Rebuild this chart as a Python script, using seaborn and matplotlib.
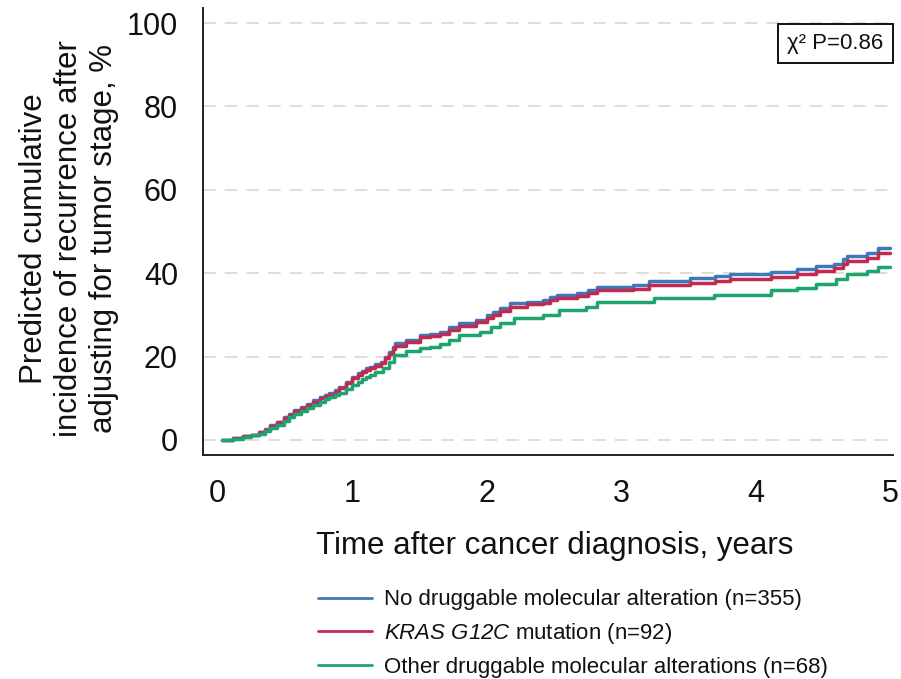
import numpy as np
import pandas as pd
import matplotlib
matplotlib.use("Agg")
import matplotlib.pyplot as plt
import seaborn as sns

# ---- data ----
groups = ["No druggable molecular alteration (n=355)",
          "KRAS G12C mutation (n=92)",
          "Other druggable molecular alterations (n=68)"]
legend_labels = ["No druggable molecular alteration (n=355)",
                 r"$\mathrm{KRAS\ G12C}$ mutation (n=92)",
                 "Other druggable molecular alterations (n=68)"]
colors = ["#3d78b8", "#c22a52", "#1ea56e"]

t_blue = [0.03, 0.11, 0.19, 0.25, 0.31, 0.35, 0.39, 0.44, 0.49, 0.53, 0.57, 0.62, 0.66, 0.71,
          0.76, 0.80, 0.83, 0.87, 0.90, 0.95, 1.00, 1.04, 1.07, 1.10, 1.13, 1.17, 1.21, 1.24,
          1.27, 1.30, 1.32, 1.40, 1.50, 1.58, 1.65, 1.72, 1.79, 1.92, 2.00, 2.05, 2.10, 2.17,
          2.30, 2.42, 2.47, 2.52, 2.67, 2.75, 2.82, 3.09, 3.21, 3.51, 3.70, 3.81, 4.11, 4.31,
          4.45, 4.58, 4.65, 4.68, 4.83, 4.91, 5.00]
v_blue = [0.0, 0.4, 1.0, 1.3, 1.8, 2.6, 3.6, 4.4, 5.4, 6.2, 7.2, 7.9, 8.6, 9.5,
          10.4, 10.8, 11.2, 12.0, 12.8, 14.0, 15.2, 16.0, 16.6, 17.2, 17.6, 18.2, 18.8, 20.0,
          21.2, 22.4, 23.2, 24.0, 25.2, 25.5, 26.0, 27.0, 28.1, 28.8, 30.0, 30.6, 31.6, 32.8,
          33.2, 33.6, 34.2, 34.8, 35.2, 36.0, 36.8, 37.2, 38.2, 38.8, 39.3, 39.7, 40.2, 40.9,
          41.7, 42.3, 43.3, 44.1, 44.8, 46.0, 46.0]

t_red = [0.03, 0.11, 0.19, 0.25, 0.31, 0.35, 0.39, 0.44, 0.49, 0.53, 0.57, 0.62, 0.66, 0.71,
         0.76, 0.80, 0.83, 0.87, 0.90, 0.95, 1.00, 1.04, 1.07, 1.10, 1.13, 1.17, 1.21, 1.24,
         1.27, 1.30, 1.32, 1.40, 1.50, 1.58, 1.65, 1.72, 1.79, 1.92, 2.00, 2.05, 2.10, 2.17,
         2.30, 2.42, 2.47, 2.52, 2.67, 2.75, 2.82, 3.09, 3.21, 3.51, 3.70, 3.81, 4.11, 4.31,
         4.45, 4.58, 4.65, 4.68, 4.83, 4.91, 5.00]
v_red = [0.0, 0.4, 1.0, 1.3, 1.8, 2.5, 3.4, 4.2, 5.2, 5.9, 6.9, 7.6, 8.3, 9.2,
         10.1, 10.5, 10.9, 11.6, 12.4, 13.6, 14.8, 15.6, 16.2, 16.8, 17.2, 17.8, 18.4, 19.6,
         20.7, 21.8, 22.6, 23.4, 24.6, 24.9, 25.4, 26.3, 27.4, 28.2, 29.3, 29.9, 30.9, 32.0,
         32.5, 32.9, 33.5, 34.0, 34.5, 35.2, 36.0, 36.3, 37.1, 37.6, 38.2, 38.6, 39.2, 39.9,
         40.6, 41.3, 42.2, 43.0, 43.6, 44.9, 44.9]

t_green = [0.03, 0.11, 0.19, 0.25, 0.31, 0.35, 0.39, 0.44, 0.49, 0.53, 0.57, 0.62, 0.66, 0.71,
           0.76, 0.80, 0.83, 0.87, 0.90, 0.95, 1.00, 1.04, 1.07, 1.10, 1.13, 1.17, 1.23, 1.27,
           1.31, 1.40, 1.50, 1.58, 1.65, 1.72, 1.79, 1.95, 2.03, 2.10, 2.20, 2.42, 2.54, 2.74,
           2.82, 3.09, 3.24, 3.69, 4.11, 4.31, 4.45, 4.60, 4.68, 4.83, 4.91, 5.00]
v_green = [0.0, 0.3, 0.8, 1.1, 1.5, 2.1, 2.8, 3.6, 4.6, 5.4, 6.2, 6.9, 7.6, 8.4,
           9.2, 9.8, 10.2, 10.8, 11.2, 12.2, 13.2, 14.0, 14.6, 15.1, 15.6, 16.4, 17.2, 18.6,
           20.4, 21.4, 22.0, 22.4, 23.0, 24.0, 25.2, 26.0, 27.0, 28.0, 29.2, 30.0, 31.2, 32.0,
           33.0, 33.0, 34.0, 34.8, 36.0, 36.5, 37.4, 38.5, 39.7, 40.6, 41.6, 41.6]

x_ticks = [0, 1, 2, 3, 4, 5]
y_ticks = [0, 20, 40, 60, 80, 100]
p_text = "\u03c7\u00b2 P=0.86"

# ---- build long table ----
frames = []
for g, t, v in zip(groups, [t_blue, t_red, t_green], [v_blue, v_red, v_green]):
    frames.append(pd.DataFrame({"time": t, "value": v, "group": g}))
df = pd.concat(frames, ignore_index=True)

# ---- style ----
sns.set_style("white")
plt.rcParams["font.family"] = ["Liberation Sans", "DejaVu Sans"]
plt.rcParams["mathtext.fontset"] = "custom"
plt.rcParams["mathtext.rm"] = "Liberation Sans:italic"
plt.rcParams["mathtext.it"] = "Liberation Sans:italic"
plt.rcParams["mathtext.default"] = "rm"

fig = plt.figure(figsize=(9.01, 6.79), dpi=100)
ax = fig.add_axes([0.2253, 0.3299, 0.7657, 0.6583])

sns.lineplot(data=df, x="time", y="value", hue="group", hue_order=groups,
             palette=colors, estimator=None, sort=False, drawstyle="steps-post",
             linewidth=2.5, ax=ax, legend=False)

ax.set_xlim(-0.11, 5.02)
ax.set_ylim(-3.6, 103.6)
ax.set_xticks(x_ticks)
ax.set_yticks(y_ticks)
ax.set_xticklabels([str(v) for v in x_ticks])
ax.set_yticklabels([str(v) for v in y_ticks])

for yv in y_ticks:
    ax.axhline(yv, color="#dedbd6", lw=1.3, ls=(0, (7, 5)), zorder=0)

for s in ["top", "right"]:
    ax.spines[s].set_visible(False)
for s in ["left", "bottom"]:
    ax.spines[s].set_color("#222222")
    ax.spines[s].set_linewidth(1.4)

ax.tick_params(axis="both", direction="out", length=8, width=1.3, color="#222222",
               labelsize=22, pad=10, labelcolor="#111111")
ax.tick_params(axis="x", pad=9)

ax.set_xlabel("Time after cancer diagnosis, years", fontsize=22.5, color="#111111")
ax.xaxis.set_label_coords(0.51, -0.17)
ax.set_ylabel("Predicted cumulative\nincidence of recurrence after\nadjusting for tumor stage, %",
              fontsize=22.5, color="#111111", linespacing=1.22)
ax.yaxis.set_label_coords(-0.122, 0.485)

ax.text(0.986, 0.944, p_text, transform=ax.transAxes, ha="right", va="top",
        fontsize=16, color="#111111",
        bbox=dict(boxstyle="square,pad=0.42", fc="white", ec="#111111", lw=1.4))

handles = [plt.Line2D([], [], color=c, lw=2.0) for c in colors]
fig.legend(handles, legend_labels, loc="upper left", bbox_to_anchor=(0.353, 0.132),
           frameon=False, fontsize=16, handlelength=2.45, handletextpad=0.5,
           labelspacing=0.49, borderaxespad=0, borderpad=0, labelcolor="#111111")

fig.savefig("out.png", dpi=100)
